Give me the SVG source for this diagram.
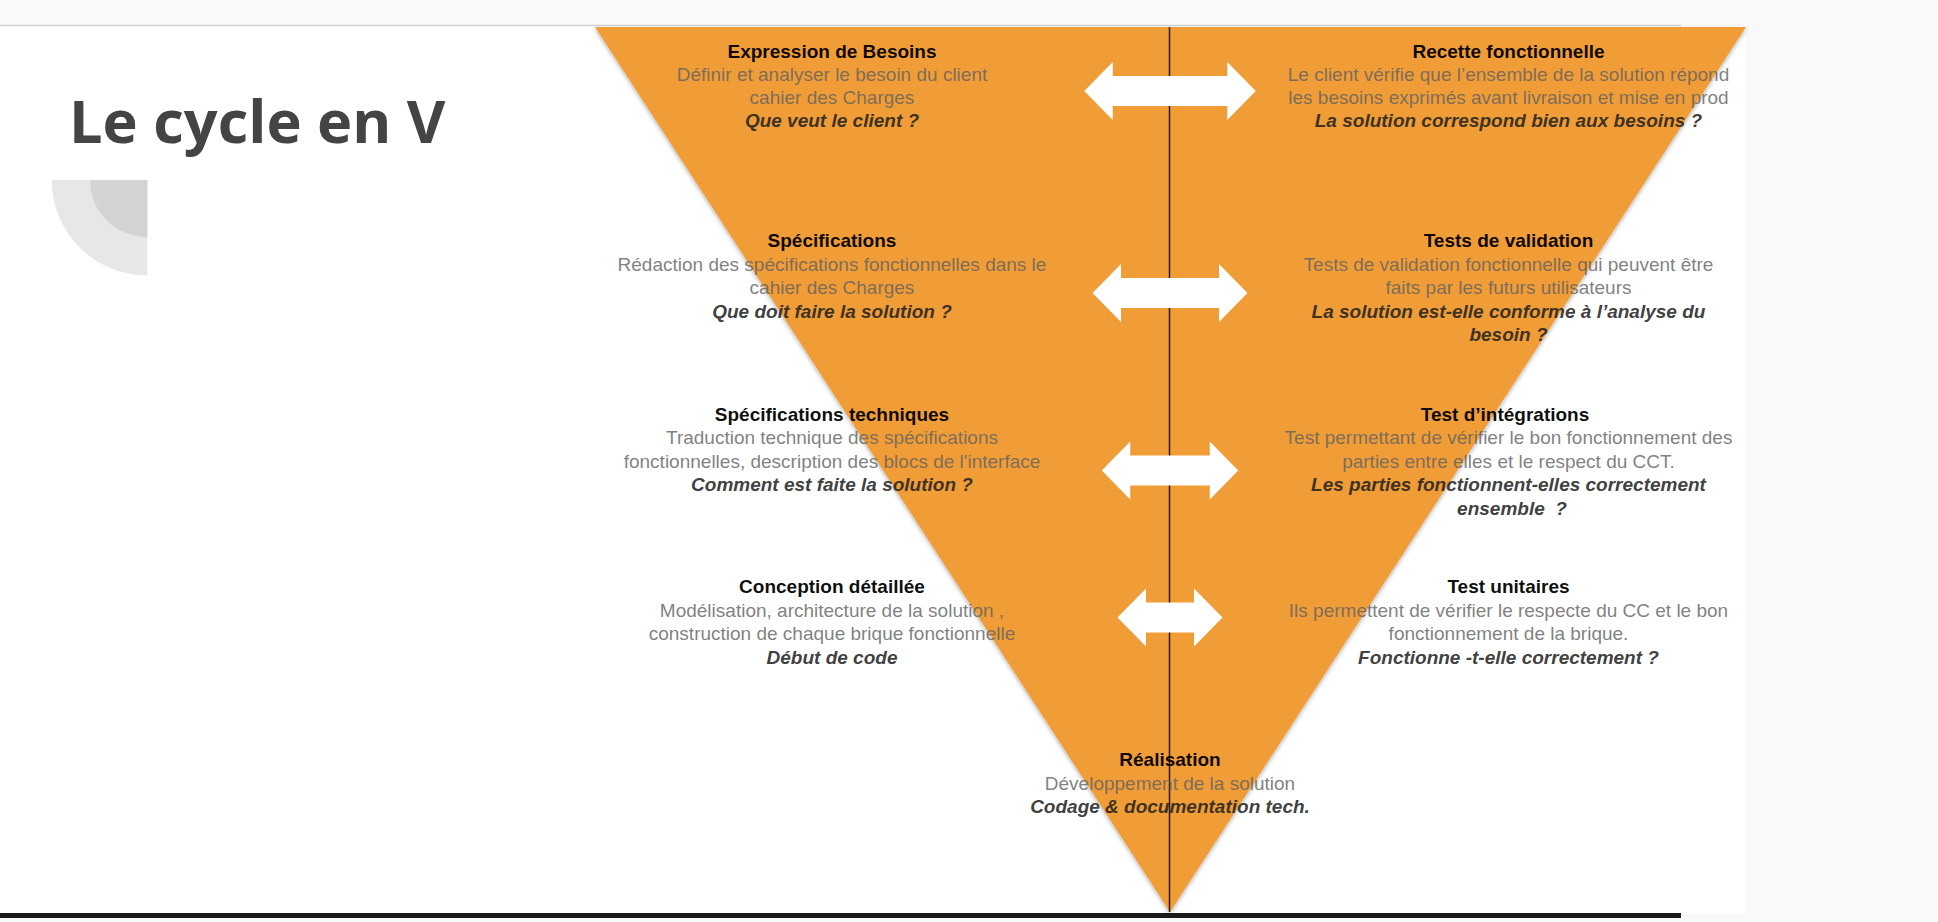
<svg xmlns="http://www.w3.org/2000/svg" width="1938" height="922" viewBox="0 0 1938 922">
<style>
text{font-family:"Liberation Sans",Arial,sans-serif;font-size:19px;text-anchor:middle}
.t{font-weight:bold;fill:#000;fill-opacity:.95}
.b{fill:#606060;fill-opacity:.8}
.q{font-weight:bold;font-style:italic;fill:#202020;fill-opacity:.87}
.arrow{fill:#fff}
</style>
<defs>
<filter id="sh" x="-5%" y="-5%" width="110%" height="110%">
<feDropShadow dx="0" dy="2" stdDeviation="2" flood-color="#000" flood-opacity="0.3"/>
</filter>
</defs>
<rect x="0" y="0" width="1938" height="922" fill="#f8f9fa"/>
<rect x="0" y="26" width="1746" height="888" fill="#fff"/>
<line x1="0" y1="25.5" x2="1681" y2="25.5" stroke="#cfd3d6" stroke-width="1.5"/>
<rect x="0" y="913" width="1681" height="5" fill="#1a1a1a"/>
<g id="title">
<text x="69" y="143" style="font-family:'Open Sans',sans-serif;font-size:59.5px;font-weight:bold;fill:#444;text-anchor:start">Le cycle en V</text>
</g>
<g id="decoration">
<path d="M147.3,180 L51.7,180 A95.5,95.5 0 0 0 147.3,275.5 Z" fill="#e7e7e7"/>
<path d="M147.3,180 L90,180 A57,57 0 0 0 147.3,237 Z" fill="#d3d3d3"/>
</g>
<g id="v-shape">
<polygon points="595,27 1746,27 1170,912" fill="#f09d39" filter="url(#sh)"/>
<line x1="1169.5" y1="27" x2="1169.5" y2="912" stroke="#2a1a0e" stroke-width="1.5"/>
</g>
<g id="connectors">
<path class="arrow" d="M1084.25,91 L1112.75,62 L1112.75,76 L1227.25,76 L1227.25,62 L1255.75,91 L1227.25,120 L1227.25,106 L1112.75,106 L1112.75,120 Z"/>
<path class="arrow" d="M1092.5,293 L1121,264 L1121,278 L1219,278 L1219,264 L1247.5,293 L1219,322 L1219,308 L1121,308 L1121,322 Z"/>
<path class="arrow" d="M1101.75,470.5 L1130.25,441.5 L1130.25,455.5 L1209.75,455.5 L1209.75,441.5 L1238.25,470.5 L1209.75,499.5 L1209.75,485.5 L1130.25,485.5 L1130.25,499.5 Z"/>
<path class="arrow" d="M1117.5,617.5 L1146,588.5 L1146,602.5 L1194,602.5 L1194,588.5 L1222.5,617.5 L1194,646.5 L1194,632.5 L1146,632.5 L1146,646.5 Z"/>
</g>
<g id="expression-besoins">
<text class="t" x="832" y="57.5">Expression de Besoins</text>
<text class="b" x="832" y="81">Définir et analyser le besoin du client</text>
<text class="b" x="832" y="104">cahier des Charges</text>
<text class="q" x="832" y="127">Que veut le client ?</text>
</g>
<g id="specifications">
<text class="t" x="832" y="247">Spécifications</text>
<text class="b" x="832" y="270.5">Rédaction des spécifications fonctionnelles dans le</text>
<text class="b" x="832" y="294">cahier des Charges</text>
<text class="q" x="832" y="317.5">Que doit faire la solution ?</text>
</g>
<g id="specifications-techniques">
<text class="t" x="832" y="420.5">Spécifications techniques</text>
<text class="b" x="832" y="444">Traduction technique des spécifications</text>
<text class="b" x="832" y="467.5">fonctionnelles, description des blocs de l'interface</text>
<text class="q" x="832" y="491">Comment est faite la solution ?</text>
</g>
<g id="conception-detaillee">
<text class="t" x="832" y="593">Conception détaillée</text>
<text class="b" x="832" y="616.5">Modélisation, architecture de la solution ,</text>
<text class="b" x="832" y="640">construction de chaque brique fonctionnelle</text>
<text class="q" x="832" y="663.5">Début de code</text>
</g>
<g id="recette-fonctionnelle">
<text class="t" x="1508.5" y="57.5">Recette fonctionnelle</text>
<text class="b" x="1508.5" y="81">Le client vérifie que l’ensemble de la solution répond</text>
<text class="b" x="1508.5" y="104">les besoins exprimés avant livraison et mise en prod</text>
<text class="q" x="1508.5" y="127">La solution correspond bien aux besoins ?</text>
</g>
<g id="tests-validation">
<text class="t" x="1508.5" y="247">Tests de validation</text>
<text class="b" x="1508.5" y="270.5">Tests de validation fonctionnelle qui peuvent être</text>
<text class="b" x="1508.5" y="294">faits par les futurs utilisateurs</text>
<text class="q" x="1508.5" y="317.5">La solution est-elle conforme à l’analyse du</text>
<text class="q" x="1508.5" y="341">besoin ?</text>
</g>
<g id="test-integrations">
<text class="t" x="1505" y="420.5">Test d’intégrations</text>
<text class="b" x="1508.5" y="444">Test permettant de vérifier le bon fonctionnement des</text>
<text class="b" x="1508.5" y="467.5">parties entre elles et le respect du CCT.</text>
<text class="q" x="1508.5" y="491">Les parties fonctionnent-elles correctement</text>
<text class="q" x="1512" y="514.5" xml:space="preserve">ensemble  ?</text>
</g>
<g id="test-unitaires">
<text class="t" x="1508.5" y="593">Test unitaires</text>
<text class="b" x="1508.5" y="616.5">Ils permettent de vérifier le respecte du CC et le bon</text>
<text class="b" x="1508.5" y="640">fonctionnement de la brique.</text>
<text class="q" x="1508.5" y="663.5">Fonctionne -t-elle correctement ?</text>
</g>
<g id="realisation">
<text class="t" x="1170" y="766">Réalisation</text>
<text class="b" x="1170" y="789.5">Développement de la solution</text>
<text class="q" x="1170" y="813">Codage &amp; documentation tech.</text>
</g>
</svg>
